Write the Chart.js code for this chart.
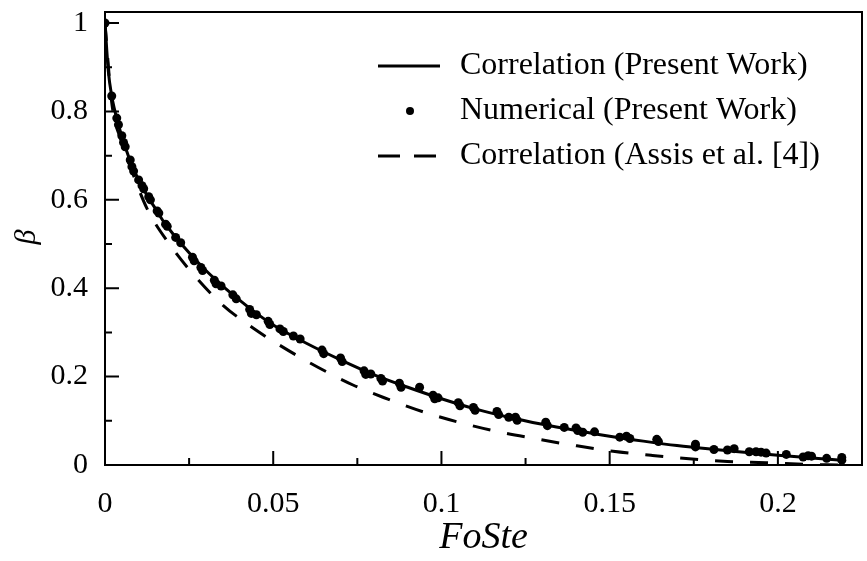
<!DOCTYPE html>
<html>
<head>
<meta charset="utf-8">
<script src="https://cdn.jsdelivr.net/npm/chart.js@4"></script>
<style>
  body { margin: 0; background: #fff; }
</style>
</head>
<body>
<canvas id="myChart" width="867" height="561"></canvas>
<script>
// values
const corrX = [0, 0.001, 0.002, 0.004, 0.006, 0.008, 0.01, 0.0125, 0.015, 0.0175, 0.02, 0.025, 0.03, 0.035, 0.04, 0.045, 0.05, 0.06, 0.07, 0.08, 0.09, 0.1, 0.11, 0.12, 0.13, 0.14, 0.15, 0.16, 0.17, 0.18, 0.19, 0.2, 0.21, 0.22];
const corrY = [1.0, 0.89, 0.835, 0.77, 0.72, 0.678, 0.645, 0.61, 0.58, 0.55, 0.525, 0.48, 0.44, 0.405, 0.373, 0.343, 0.317, 0.275, 0.238, 0.204, 0.176, 0.15, 0.127, 0.108, 0.092, 0.078, 0.065, 0.054, 0.044, 0.036, 0.029, 0.022, 0.016, 0.01];

const numX = [0, 0.002, 0.0035, 0.004, 0.005, 0.0055, 0.006, 0.0075, 0.008, 0.0085, 0.01, 0.011, 0.0115, 0.013, 0.0135, 0.0155, 0.016, 0.018, 0.0185, 0.021, 0.0225, 0.026, 0.0265, 0.0285, 0.029, 0.0325, 0.033, 0.0345, 0.038, 0.039, 0.043, 0.0435, 0.045, 0.0485, 0.049, 0.052, 0.053, 0.056, 0.058, 0.0645, 0.065, 0.07, 0.0705, 0.077, 0.0775, 0.079, 0.082, 0.0825, 0.0875, 0.088, 0.0935, 0.0975, 0.098, 0.099, 0.105, 0.1055, 0.1095, 0.11, 0.1165, 0.117, 0.12, 0.122, 0.1225, 0.131, 0.1315, 0.1365, 0.14, 0.1405, 0.142, 0.1455, 0.153, 0.155, 0.156, 0.164, 0.1645, 0.1755, 0.1755, 0.181, 0.185, 0.187, 0.1915, 0.1935, 0.195, 0.1965, 0.2025, 0.2075, 0.209, 0.21, 0.2145, 0.219, 0.219];
const numY = [1.0, 0.835, 0.785, 0.77, 0.745, 0.73, 0.72, 0.69, 0.675, 0.665, 0.645, 0.632, 0.625, 0.607, 0.6, 0.575, 0.57, 0.545, 0.54, 0.515, 0.503, 0.47, 0.462, 0.447, 0.44, 0.418, 0.41, 0.405, 0.385, 0.376, 0.352, 0.343, 0.34, 0.325, 0.318, 0.308, 0.302, 0.292, 0.285, 0.26, 0.252, 0.242, 0.234, 0.213, 0.205, 0.206, 0.196, 0.19, 0.185, 0.176, 0.176, 0.158, 0.15, 0.152, 0.141, 0.134, 0.13, 0.124, 0.121, 0.114, 0.108, 0.108, 0.101, 0.097, 0.089, 0.085, 0.084, 0.078, 0.074, 0.075, 0.063, 0.065, 0.06, 0.058, 0.053, 0.047, 0.041, 0.035, 0.034, 0.037, 0.03, 0.03, 0.029, 0.027, 0.024, 0.018, 0.021, 0.02, 0.015, 0.017, 0.011];

const assisX = [0, 0.002, 0.005, 0.008, 0.0125, 0.0198, 0.027, 0.035, 0.044, 0.05, 0.06, 0.0737, 0.0841, 0.0951, 0.106, 0.117, 0.1283, 0.1397, 0.151, 0.1623, 0.1736, 0.185, 0.1965, 0.208, 0.218];
const assisY = [1.0, 0.82, 0.73, 0.665, 0.58, 0.493, 0.425, 0.362, 0.31, 0.28, 0.235, 0.181, 0.149, 0.119, 0.095, 0.075, 0.059, 0.044, 0.031, 0.022, 0.014, 0.008, 0.005, 0.0015, 0];

const xTicks = [0, 0.05, 0.1, 0.15, 0.2];
const xMinor = [0.025, 0.075, 0.125, 0.175];
const yTicks = [0, 0.2, 0.4, 0.6, 0.8, 1];
const yMinor = [0.1, 0.3, 0.5, 0.7, 0.9];

const seriesNames = ['Correlation (Present Work)', 'Numerical (Present Work)', 'Correlation (Assis et al. [4])'];
const xTitle = 'FoSte';
const yTitle = 'β';

function pairs(xs, ys) {
  return xs.map((x, i) => ({x: x, y: ys[i]}));
}

const serif = 'Liberation Serif, Times New Roman, serif';

// inward ticks, top/right frame, axis titles and the legend inside the plot
const framePlugin = {
  id: 'frame',
  afterDraw(chart) {
    const ctx = chart.ctx;
    const a = chart.chartArea;
    const x = chart.scales.x;
    const y = chart.scales.y;
    ctx.save();
    ctx.strokeStyle = '#000';
    ctx.lineWidth = 2;
    ctx.beginPath();
    ctx.moveTo(a.left, a.top);
    ctx.lineTo(a.right, a.top);
    ctx.lineTo(a.right, a.bottom);
    ctx.stroke();

    ctx.beginPath();
    xTicks.forEach(v => { const p = x.getPixelForValue(v); ctx.moveTo(p, a.bottom); ctx.lineTo(p, a.bottom - 14); });
    xMinor.forEach(v => { const p = x.getPixelForValue(v); ctx.moveTo(p, a.bottom); ctx.lineTo(p, a.bottom - 7); });
    yTicks.forEach(v => { const p = y.getPixelForValue(v); ctx.moveTo(a.left, p); ctx.lineTo(a.left + 14, p); });
    yMinor.forEach(v => { const p = y.getPixelForValue(v); ctx.moveTo(a.left, p); ctx.lineTo(a.left + 7, p); });
    ctx.stroke();

    // axis titles
    ctx.fillStyle = '#000';
    ctx.textAlign = 'center';
    ctx.textBaseline = 'middle';
    ctx.font = 'italic 38px ' + serif;
    ctx.fillText(xTitle, (a.left + a.right) / 2, 538);
    ctx.save();
    ctx.translate(27, 237);
    ctx.rotate(-Math.PI / 2);
    ctx.font = 'italic 30px ' + serif;
    ctx.fillText(yTitle, 0, 0);
    ctx.restore();

    // legend
    const rows = [66, 111, 156];
    ctx.lineWidth = 3;
    ctx.beginPath();
    ctx.moveTo(378, rows[0]); ctx.lineTo(440, rows[0]);
    ctx.stroke();
    ctx.beginPath();
    ctx.arc(410, rows[1], 4, 0, Math.PI * 2);
    ctx.fill();
    ctx.setLineDash([22, 14]);
    ctx.beginPath();
    ctx.moveTo(378, rows[2]); ctx.lineTo(436, rows[2]);
    ctx.stroke();
    ctx.setLineDash([]);
    ctx.textAlign = 'left';
    ctx.font = '32px ' + serif;
    seriesNames.forEach((s, i) => ctx.fillText(s, 460, rows[i]));
    ctx.restore();
  }
};

function noPad(scale) {
  scale.paddingTop = 0;
  scale.paddingBottom = 0;
  scale.paddingLeft = 0;
  scale.paddingRight = 0;
}

const ctx = document.getElementById('myChart');

new Chart(ctx, {
  type: 'scatter',
  data: {
    datasets: [
      {
        label: seriesNames[0],
        data: pairs(corrX, corrY),
        showLine: true,
        borderColor: '#000',
        borderWidth: 3,
        pointRadius: 0,
        cubicInterpolationMode: 'monotone',
      },
      {
        label: seriesNames[1],
        data: pairs(numX, numY),
        pointRadius: 4.5,
        pointBackgroundColor: '#000',
        pointBorderWidth: 0,
      },
      {
        label: seriesNames[2],
        data: pairs(assisX, assisY),
        showLine: true,
        borderColor: '#000',
        borderWidth: 3,
        borderDash: [18, 17],
        pointRadius: 0,
        cubicInterpolationMode: 'monotone',
      },
    ],
  },
  options: {
    responsive: false,
    devicePixelRatio: 1,
    animation: false,
    layout: { padding: { left: 0, top: 12, right: 5, bottom: 0 } },
    plugins: {
      legend: { display: false },
      tooltip: { enabled: false },
    },
    scales: {
      x: {
        type: 'linear',
        min: 0,
        max: 0.225,
        grid: { display: false },
        border: { display: true, color: '#000', width: 2 },
        afterFit: (scale) => { scale.height = 96; noPad(scale); },
        afterBuildTicks: (scale) => { scale.ticks = xTicks.map(v => ({value: v})); },
        ticks: {
          color: '#000',
          padding: 16,
          maxRotation: 0,
          font: { family: serif, size: 30, lineHeight: 1 },
          callback: (v) => String(v),
        },
      },
      y: {
        type: 'linear',
        min: 0,
        max: 1.025,
        grid: { display: false },
        border: { display: true, color: '#000', width: 2 },
        afterFit: (scale) => { scale.width = 105; noPad(scale); },
        afterBuildTicks: (scale) => { scale.ticks = yTicks.map(v => ({value: v})); },
        ticks: {
          color: '#000',
          padding: 9,
          font: { family: serif, size: 30, lineHeight: 1 },
          callback: (v) => String(v),
        },
      },
    },
  },
  plugins: [framePlugin],
});
</script>
</body>
</html>
